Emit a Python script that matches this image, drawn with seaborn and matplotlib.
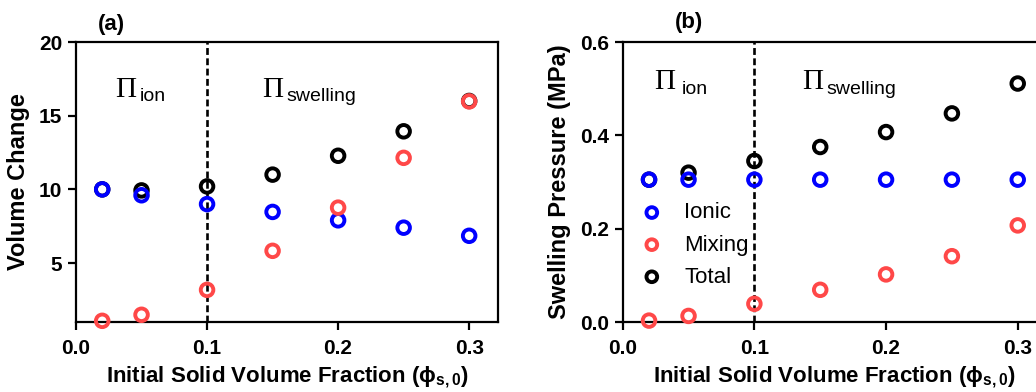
import numpy as np
import pandas as pd
import matplotlib
matplotlib.use("Agg")
import matplotlib.pyplot as plt
import seaborn as sns

# ---- data ----
phi = [0.02, 0.05, 0.10, 0.15, 0.20, 0.25, 0.30]

vol_ionic = [10.0, 9.6, 9.0, 8.47, 7.9, 7.4, 6.85]
vol_mixing = [1.08, 1.49, 3.18, 5.83, 8.76, 12.14, 15.97]
vol_total = [10.0, 9.93, 10.2, 11.0, 12.28, 13.94, 16.0]

pres_ionic = [0.305, 0.305, 0.305, 0.305, 0.305, 0.305, 0.305]
pres_mixing = [0.003, 0.013, 0.039, 0.069, 0.102, 0.141, 0.207]
pres_total = [0.305, 0.320, 0.345, 0.375, 0.407, 0.447, 0.511]

series_names = ["Total", "Ionic", "Mixing"]
colors = {"Ionic": "#0000ff", "Mixing": "#ff4848", "Total": "#000000"}

xticks = [0.0, 0.1, 0.2, 0.3]
xtick_labels = ["0.0", "0.1", "0.2", "0.3"]
left_yticks = [5, 10, 15, 20]
right_yticks = [0.0, 0.2, 0.4, 0.6]
right_ytick_labels = ["0.0", "0.2", "0.4", "0.6"]

sns.set_theme(style="ticks")
plt.rcParams["font.family"] = ["Liberation Sans", "DejaVu Sans"]
plt.rcParams["mathtext.fontset"] = "custom"
plt.rcParams["mathtext.rm"] = "Liberation Sans"
plt.rcParams["mathtext.bf"] = "Liberation Sans:bold"
plt.rcParams["mathtext.it"] = "Liberation Sans:italic"
plt.rcParams["mathtext.sf"] = "Liberation Sans"
for k in ["text.color", "axes.labelcolor", "xtick.color", "ytick.color",
          "axes.edgecolor"]:
    plt.rcParams[k] = "black"

fig = plt.figure(figsize=(10.36, 3.92), dpi=100)
axL = fig.add_axes([76 / 1036, 1 - 322 / 392, 422 / 1036, 280 / 392])
axR = fig.add_axes([622.7 / 1036, 1 - 322 / 392, 424 / 1036, 280 / 392])

def make_df(ionic, mixing, total):
    return {"Ionic": pd.DataFrame({"phi": phi, "val": ionic}),
            "Mixing": pd.DataFrame({"phi": phi, "val": mixing}),
            "Total": pd.DataFrame({"phi": phi, "val": total})}

dL = make_df(vol_ionic, vol_mixing, vol_total)
dR = make_df(pres_ionic, pres_mixing, pres_total)

for ax, d in [(axL, dL), (axR, dR)]:
    for z, name in enumerate(series_names):
        sns.scatterplot(data=d[name], x="phi", y="val", ax=ax, marker="o",
                        s=82, facecolors="none", edgecolor=colors[name],
                        linewidth=2.8, label=name, zorder=3 + z, clip_on=False)
    ax.axvline(0.1, color="black", lw=1.9, ls=(0, (2.6, 1.3)), zorder=2)
    ax.set_xlim(0, 0.322)
    ax.set_xticks(xticks)
    ax.set_xticklabels(xtick_labels)
    for sp in ax.spines.values():
        sp.set_visible(True)
        sp.set_linewidth(1.6)
        sp.set_color("black")
    ax.tick_params(axis="both", direction="out", length=6, width=1.6,
                   colors="black", labelsize=15, pad=4)
    ax.tick_params(axis="x", pad=6)
    ax.set_xlabel(r"Initial Solid Volume Fraction ($\mathbf{\phi_{s,0}}$)",
                  fontsize=16, fontweight="bold", labelpad=5)
    ax.grid(False)

axL.set_ylim(1, 20)
axL.set_yticks(left_yticks)
axL.set_yticklabels([str(v) for v in left_yticks])
axL.set_ylabel("Volume Change", fontsize=17, fontweight="bold", labelpad=6)
axL.get_legend().remove()

axR.set_ylim(0, 0.6)
axR.set_yticks(right_yticks)
axR.set_yticklabels(right_ytick_labels)
axR.set_ylabel("Swelling Pressure (MPa)", fontsize=17, fontweight="bold", labelpad=6)

for ax in (axL, axR):
    for lab in ax.get_xticklabels() + ax.get_yticklabels():
        lab.set_fontweight("bold")

handles, labels = axR.get_legend_handles_labels()
order = [labels.index(n) for n in ["Ionic", "Mixing", "Total"]]
axR.legend([handles[i] for i in order], [labels[i] for i in order],
           loc="center left", bbox_to_anchor=(0.0215, 0.275), frameon=False,
           fontsize=16, handlelength=1.0, handletextpad=0.95, markerscale=0.85,
           labelspacing=0.5, borderaxespad=0.0, borderpad=0.4)

# panel letters
axL.text(0.083, 1.064, "(a)", transform=axL.transAxes, ha="center", va="center",
         fontsize=16, fontweight="bold")
axR.text(0.156, 1.068, "(b)", transform=axR.transAxes, ha="center", va="center",
         fontsize=16, fontweight="bold")

# Pi annotations
def pi_label(ax, xpi, ypi, xs, ys, sub):
    ax.text(xpi, ypi, "\u03a0", family="Liberation Serif", fontsize=21,
            ha="left", va="baseline")
    ax.text(xs, ys, sub, fontsize=14, ha="left", va="baseline")

pi_label(axL, 0.0298, 16.24, 0.0489, 15.97, "ion")
pi_label(axL, 0.1418, 16.24, 0.1608, 15.97, "swelling")
pi_label(axR, 0.0238, 0.5003, 0.0448, 0.4896, "ion")
pi_label(axR, 0.136, 0.5003, 0.155, 0.4896, "swelling")

fig.savefig("out.png", dpi=100)
